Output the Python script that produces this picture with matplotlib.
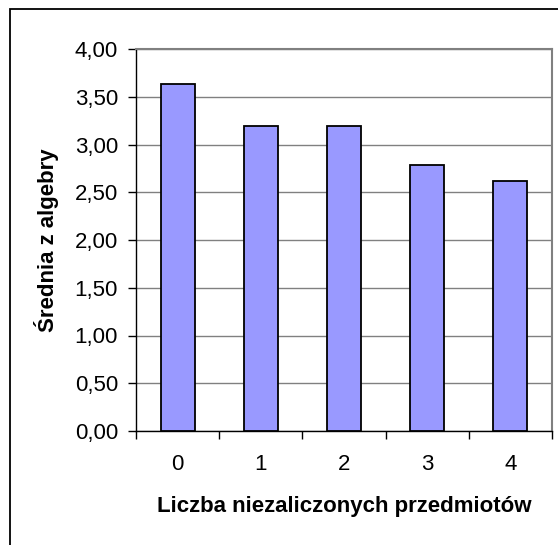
import numpy as np
import matplotlib.pyplot as plt
from matplotlib.patches import Rectangle

plt.rcParams['font.family'] = ['Liberation Sans', 'DejaVu Sans']

kategorie = ['0', '1', '2', '3', '4']
srednie = [3.63, 3.19, 3.19, 2.79, 2.62]
y_ticks = [0.0, 0.5, 1.0, 1.5, 2.0, 2.5, 3.0, 3.5, 4.0]
y_labels = ['0,00', '0,50', '1,00', '1,50', '2,00', '2,50', '3,00', '3,50', '4,00']

fig = plt.figure(figsize=(5.58, 5.45), dpi=100)
ax = fig.add_axes([136/558, 1 - 431/545, (552-136)/558, (431-49)/545])

x = np.arange(len(kategorie))
ax.bar(x, srednie, width=0.41, color='#9999ff', edgecolor='black', linewidth=1.3, zorder=3)

ax.set_xlim(-0.5, 4.5)
ax.set_ylim(0, 4)
ax.set_yticks(y_ticks)
ax.set_yticklabels(y_labels, fontsize=16)
ax.set_xticks(x)
ax.set_xticklabels(kategorie, fontsize=16)
ax.set_xticks(np.arange(-0.5, 5, 1), minor=True)
ax.tick_params(axis='x', which='major', length=0, pad=16.5)
ax.tick_params(axis='x', which='minor', length=6, width=1, direction='out')
ax.tick_params(axis='y', length=6, width=1, direction='out', pad=7)

ax.grid(axis='y', color='#808080', linewidth=1, zorder=0)
ax.set_axisbelow(True)
for s in ['top', 'right']:
    ax.spines[s].set_color('#808080')
    ax.spines[s].set_linewidth(1.5)
for s in ['left', 'bottom']:
    ax.spines[s].set_color('black')
    ax.spines[s].set_linewidth(1)

ax.set_ylabel('Średnia z algebry', fontsize=16, fontweight='bold', labelpad=11)
ax.set_xlabel('Liczba niezaliczonych przedmiotów', fontsize=16, fontweight='bold', labelpad=15)

# ramka wykresu
fig.patches.append(Rectangle((10/558, -0.1), 1.2, 1 - 9/545 + 0.1, transform=fig.transFigure,
                             fill=False, edgecolor='black', linewidth=1.3))

fig.savefig('out.png', dpi=100)
